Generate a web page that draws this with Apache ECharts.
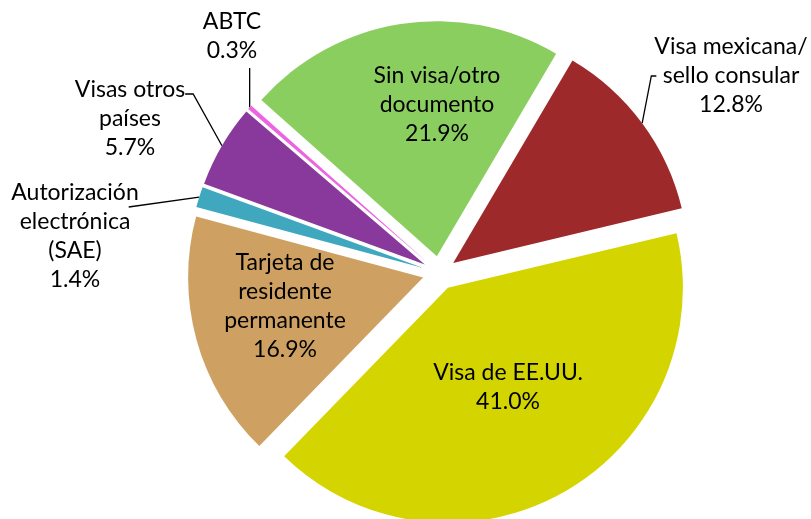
<!DOCTYPE html>
<html>
<head>
<meta charset="utf-8">
<script src="https://cdn.jsdelivr.net/npm/echarts@6/dist/echarts.min.js"></script>
<style>
  html, body { margin: 0; padding: 0; background: #fff; }
  #chart { width: 811px; height: 519px; }
</style>
</head>
<body>
<div id="chart"></div>
<script>
  const categories = ['Visa mexicana/\nsello consular', 'Visa de EE.UU.', 'Tarjeta de\nresidente\npermanente',
    'Autorización\nelectrónica\n(SAE)', 'Visas otros\npaíses', 'ABTC', 'Sin visa/otro\ndocumento']
  const shares = [12.8, 41.0, 16.9, 1.4, 5.7, 0.3, 21.9]
  const colors = ['#9e292b', '#d4d500', '#cea163', '#40a8be', '#89399b', '#ec64e0', '#8bce60']
  // which labels sit outside the pie with a leader line
  const outside = [true, false, false, true, true, true, false]

  // label centres
  const labelPos = [[731, 76], [508, 387], [285, 306], [75, 236], [130, 119], [232, 36], [437, 105]]
  const lineH = 29

  const pieCenter = [439.5, 273]
  const pieRadius = 235
  const startAngle = 59.5   // echarts degrees (ccw from 3 o'clock)
  const explode = 17

  const chart = echarts.init(document.getElementById('chart'))

  function layoutLabel(p) {
    const i = p.dataIndex
    const r = p.labelRect
    const cx = labelPos[i][0], cy = labelPos[i][1]
    const left = cx - r.width / 2, right = cx + r.width / 2
    const top = cy - r.height / 2, bottom = cy + r.height / 2
    const out = { x: cx, y: cy, align: 'center', verticalAlign: 'middle' }
    const pts = p.labelLinePoints
    if (outside[i] && pts) {
      const s = pts[0]
      let mid, end
      if (i === 0) {
        end = [left + 2, top + lineH * 1.5]
        mid = [end[0] - 5, end[1]]
      } else if (i === 3) {
        end = [right - 10, top + lineH]
        mid = end
      } else if (i === 4) {
        end = [right, top + lineH * 0.5 + 4]
        mid = [end[0] + 8, end[1]]
      } else {
        end = [s[0], bottom + 3]
        mid = end
      }
      out.labelLinePoints = [s, mid, end]
    }
    return out
  }

  // one series per slice so every slice can be pulled out from the centre (exploded pie)
  const total = shares.reduce((a, b) => a + b, 0)
  let acc = 0
  const series = categories.map((name, k) => {
    const midDeg = (90 - startAngle) + (acc + shares[k] / 2) / total * 360
    acc += shares[k]
    const rad = midDeg * Math.PI / 180
    return {
      type: 'pie',
      silent: true,
      center: [pieCenter[0] + explode * Math.sin(rad), pieCenter[1] - explode * Math.cos(rad)],
      radius: pieRadius,
      startAngle: startAngle,
      clockwise: true,
      avoidLabelOverlap: false,
      emphasis: { disabled: true },
      itemStyle: { borderWidth: 0 },
      label: {
        position: 'outside',
        fontFamily: 'Lato',
        fontSize: 23,
        lineHeight: lineH,
        color: '#000',
        formatter: p => p.name + '\n' + p.value.toFixed(1) + '%'
      },
      labelLine: {
        show: true,
        lineStyle: { color: '#000', width: 1.3 }
      },
      labelLayout: layoutLabel,
      data: categories.map((n, i) => ({
        name: n,
        value: shares[i],
        itemStyle: { color: i === k ? colors[i] : 'rgba(0,0,0,0)' },
        label: { show: i === k },
        labelLine: { show: i === k && outside[i] }
      }))
    }
  })

  chart.setOption({
    animation: false,
    series: series
  })
</script>
</body>
</html>
